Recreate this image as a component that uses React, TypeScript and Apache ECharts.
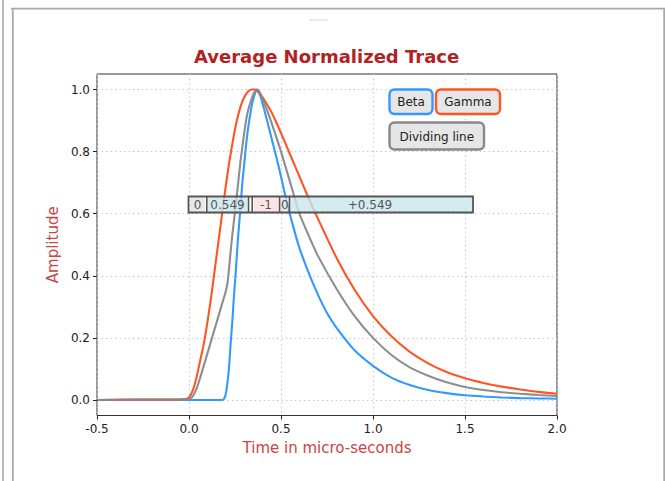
import React, { useEffect, useRef } from "react";
import * as echarts from "echarts";

const seriesNames = ["Beta", "Gamma", "Dividing line"];
const seriesColors = ["#3399ff", "#ff5522", "#888888"];

const betaT = [-0.5, -0.3, -0.1, 0, 0.1, 0.18, 0.19, 0.2, 0.21, 0.217, 0.225, 0.235, 0.245, 0.255, 0.265, 0.277, 0.29, 0.3, 0.31, 0.32, 0.33, 0.34, 0.35, 0.36, 0.37, 0.38, 0.39, 0.4, 0.42, 0.45, 0.48, 0.5, 0.53, 0.56, 0.6, 0.65, 0.7, 0.75, 0.8, 0.9, 1.0, 1.1, 1.2, 1.3, 1.4, 1.5, 1.6, 1.7, 1.8, 1.9, 2.0];
const betaV = [0, 0, 0, 0, 0, 0, 0.003, 0.02, 0.06, 0.1, 0.17, 0.25, 0.34, 0.42, 0.51, 0.6, 0.7, 0.76, 0.82, 0.87, 0.91, 0.945, 0.97, 0.99, 1.0, 0.99, 0.975, 0.955, 0.91, 0.84, 0.77, 0.72, 0.64, 0.572, 0.49, 0.41, 0.34, 0.28, 0.234, 0.16, 0.11, 0.072, 0.048, 0.032, 0.022, 0.015, 0.011, 0.008, 0.006, 0.005, 0.004];

const gammaT = [-0.5, -0.3, -0.1, -0.02, 0, 0.02, 0.04, 0.06, 0.08, 0.1, 0.12, 0.14, 0.16, 0.18, 0.2, 0.22, 0.24, 0.26, 0.28, 0.3, 0.32, 0.34, 0.36, 0.38, 0.4, 0.45, 0.5, 0.55, 0.6, 0.65, 0.7, 0.8, 0.9, 1.0, 1.1, 1.2, 1.3, 1.4, 1.5, 1.6, 1.7, 1.8, 1.9, 2.0];
const gammaV = [0, 0.001, 0.001, 0.003, 0.008, 0.03, 0.07, 0.125, 0.18, 0.25, 0.33, 0.42, 0.51, 0.6, 0.69, 0.77, 0.84, 0.9, 0.945, 0.975, 0.993, 1.0, 1.0, 0.99, 0.975, 0.925, 0.86, 0.79, 0.72, 0.65, 0.585, 0.46, 0.355, 0.27, 0.205, 0.155, 0.118, 0.09, 0.07, 0.055, 0.043, 0.034, 0.026, 0.02];

const divT = [-0.5, -0.3, -0.1, 0, 0.02, 0.04, 0.06, 0.08, 0.1, 0.125, 0.15, 0.175, 0.2, 0.21, 0.217, 0.225, 0.235, 0.245, 0.253, 0.262, 0.271, 0.28, 0.289, 0.3, 0.31, 0.32, 0.335, 0.35, 0.36, 0.37, 0.38, 0.39, 0.4, 0.42, 0.45, 0.5, 0.55, 0.585, 0.6, 0.65, 0.7, 0.8, 0.9, 1.0, 1.1, 1.2, 1.3, 1.4, 1.5, 1.6, 1.7, 1.8, 1.9, 2.0];
const divV = [0, 0.001, 0.001, 0.003, 0.012, 0.035, 0.07, 0.11, 0.15, 0.2, 0.25, 0.3, 0.35, 0.38, 0.42, 0.47, 0.53, 0.58, 0.62, 0.67, 0.72, 0.77, 0.81, 0.86, 0.9, 0.93, 0.96, 0.985, 0.995, 1.0, 0.995, 0.985, 0.97, 0.94, 0.89, 0.8, 0.7, 0.63, 0.6, 0.53, 0.465, 0.36, 0.27, 0.2, 0.145, 0.105, 0.078, 0.057, 0.042, 0.032, 0.025, 0.02, 0.016, 0.013];

const yTickValues = [0, 0.2, 0.4, 0.6, 0.8, 1.0];
const tableCells = ["0", "0.549", "-1", "0", "+0.549"];

const FONT = "DejaVu Sans";

function pairs(t: number[], v: number[]) {
  return t.map((x, i) => [x, v[i]]);
}

export default function App() {
  const ref = useRef<HTMLDivElement>(null);
  useEffect(() => {
    if (!ref.current) return;
    const chart = echarts.init(ref.current, undefined, { renderer: "svg" });
    const frameColor = "#a9a9a9";
    const line = (x1: number, y1: number, x2: number, y2: number, stroke: string, w: number) => ({
      type: "line",
      silent: true,
      shape: { x1, y1, x2, y2 },
      style: { stroke, lineWidth: w },
    });

    const cellDefs = [
      { x: 190, w: 15, fill: "#e2e2e2", tx: 197.5 },
      { x: 208, w: 39, fill: "#c9e6ec", tx: 227.5 },
      { x: 254, w: 24.5, fill: "#fcdcdc", tx: 266 },
      { x: 281, w: 7.5, fill: "#e2e2e2", tx: 284.8 },
      { x: 290.5, w: 182, fill: "#c9e6ec", tx: 370 },
    ];
    const tableEls: any[] = [];
    cellDefs.forEach((c, i) => {
      tableEls.push({
        type: "rect",
        shape: { x: c.x, y: 197.5, width: c.w, height: 14.5 },
        style: { fill: c.fill, opacity: 0.8 },
        z: 100,
      });
      tableEls.push({
        type: "text",
        x: c.tx,
        y: 205,
        style: { text: tableCells[i], fill: "#555555", font: `12px '${FONT}'`, align: "center", verticalAlign: "middle" },
        z: 102,
      });
    });
    [206.8, 248.5, 252.2, 279.6, 289.5].forEach((sx) => {
      tableEls.push({ ...line(sx, 197, sx, 212, "#555555", 1.6), z: 101 });
    });
    tableEls.push({
      type: "rect",
      shape: { x: 188.5, y: 196.5, width: 284.5, height: 16 },
      style: { fill: "none", stroke: "#555555", lineWidth: 1.8 },
      z: 103,
    });

    const buttons = [
      { name: seriesNames[0], x: 389.5, y: 89.5, w: 43, h: 24.5, color: seriesColors[0] },
      { name: seriesNames[1], x: 436, y: 89.5, w: 64, h: 24.5, color: seriesColors[1] },
      { name: seriesNames[2], x: 389.5, y: 122.5, w: 94.5, h: 27, color: seriesColors[2] },
    ];
    const buttonEls: any[] = [];
    buttons.forEach((b) => {
      buttonEls.push({
        type: "rect",
        shape: { x: b.x, y: b.y, width: b.w, height: b.h, r: 5 },
        style: { fill: "#e6e6e6", stroke: b.color, lineWidth: 2.4 },
        z: 100,
      });
      buttonEls.push({
        type: "text",
        x: b.x + b.w / 2,
        y: b.y + b.h / 2 + 0.5,
        style: { text: b.name, fill: "#222222", font: `12px '${FONT}'`, align: "center", verticalAlign: "middle" },
        z: 101,
      });
    });

    const seriesData = [pairs(betaT, betaV), pairs(gammaT, gammaV), pairs(divT, divV)];
    const splitStyle = { color: "#c4c4ee", type: [1.5, 3], width: 1 };

    chart.setOption({
      animation: false,
      backgroundColor: "#ffffff",
      textStyle: { fontFamily: FONT },
      title: {
        text: "Average Normalized Trace",
        left: 194,
        top: 47.5,
        padding: 0,
        textStyle: { color: "#b22222", fontSize: 18, fontWeight: "bold", fontFamily: FONT },
      },
      grid: {
        left: 97,
        top: 74,
        width: 460,
        height: 341.5,
        show: true,
        borderColor: "#333333",
        borderWidth: 1,
        backgroundColor: "transparent",
      },
      xAxis: {
        type: "value",
        min: -0.5,
        max: 2.0,
        interval: 0.5,
        name: "Time in micro-seconds",
        nameLocation: "middle",
        nameGap: 25,
        nameTextStyle: { color: "#cc4444", fontSize: 15, fontFamily: FONT },
        axisLine: { show: false, onZero: false },
        axisTick: { show: true, inside: false, length: 4, lineStyle: { color: "#222" } },
        axisLabel: {
          color: "#222",
          fontSize: 12,
          margin: 7,
          fontFamily: FONT,
          formatter: (v: number) => v.toFixed(1),
        },
        splitLine: { show: true, lineStyle: splitStyle },
      },
      yAxis: {
        type: "value",
        min: -0.05,
        max: 1.05,
        name: "Amplitude",
        nameLocation: "middle",
        nameGap: 37,
        nameTextStyle: { color: "#cc4444", fontSize: 15, fontFamily: FONT },
        axisLine: { show: false, onZero: false },
        axisTick: { show: true, inside: false, length: 4, lineStyle: { color: "#222" }, customValues: yTickValues },
        axisLabel: {
          color: "#222",
          fontSize: 12,
          margin: 7,
          fontFamily: FONT,
          customValues: yTickValues,
          formatter: (v: number) => v.toFixed(1),
        },
        splitLine: { show: true, lineStyle: splitStyle },
      },
      series: seriesNames.map((n, i) => ({
        name: n,
        type: "line",
        data: seriesData[i],
        showSymbol: false,
        smooth: 0.2,
        lineStyle: { color: seriesColors[i], width: 2.1, opacity: i === 2 ? 0.95 : 1 },
        itemStyle: { color: seriesColors[i] },
        z: 2 + i,
      })),
      graphic: [
        line(3, 0, 3, 481, frameColor, 1.6),
        line(12.8, 9, 12.8, 481, frameColor, 1.8),
        line(11, 8.6, 665, 8.6, frameColor, 1.8),
        line(664.2, 8, 664.2, 481, frameColor, 1.8),
        line(309, 20, 328, 20, "#dddddd", 1.2),
        ...tableEls,
        ...buttonEls,
      ],
    });
    return () => chart.dispose();
  }, []);
  return (
    <div
      ref={ref}
      style={{ position: "fixed", left: 0, top: 0, width: 665, height: 481, background: "#fff" }}
    />
  );
}
